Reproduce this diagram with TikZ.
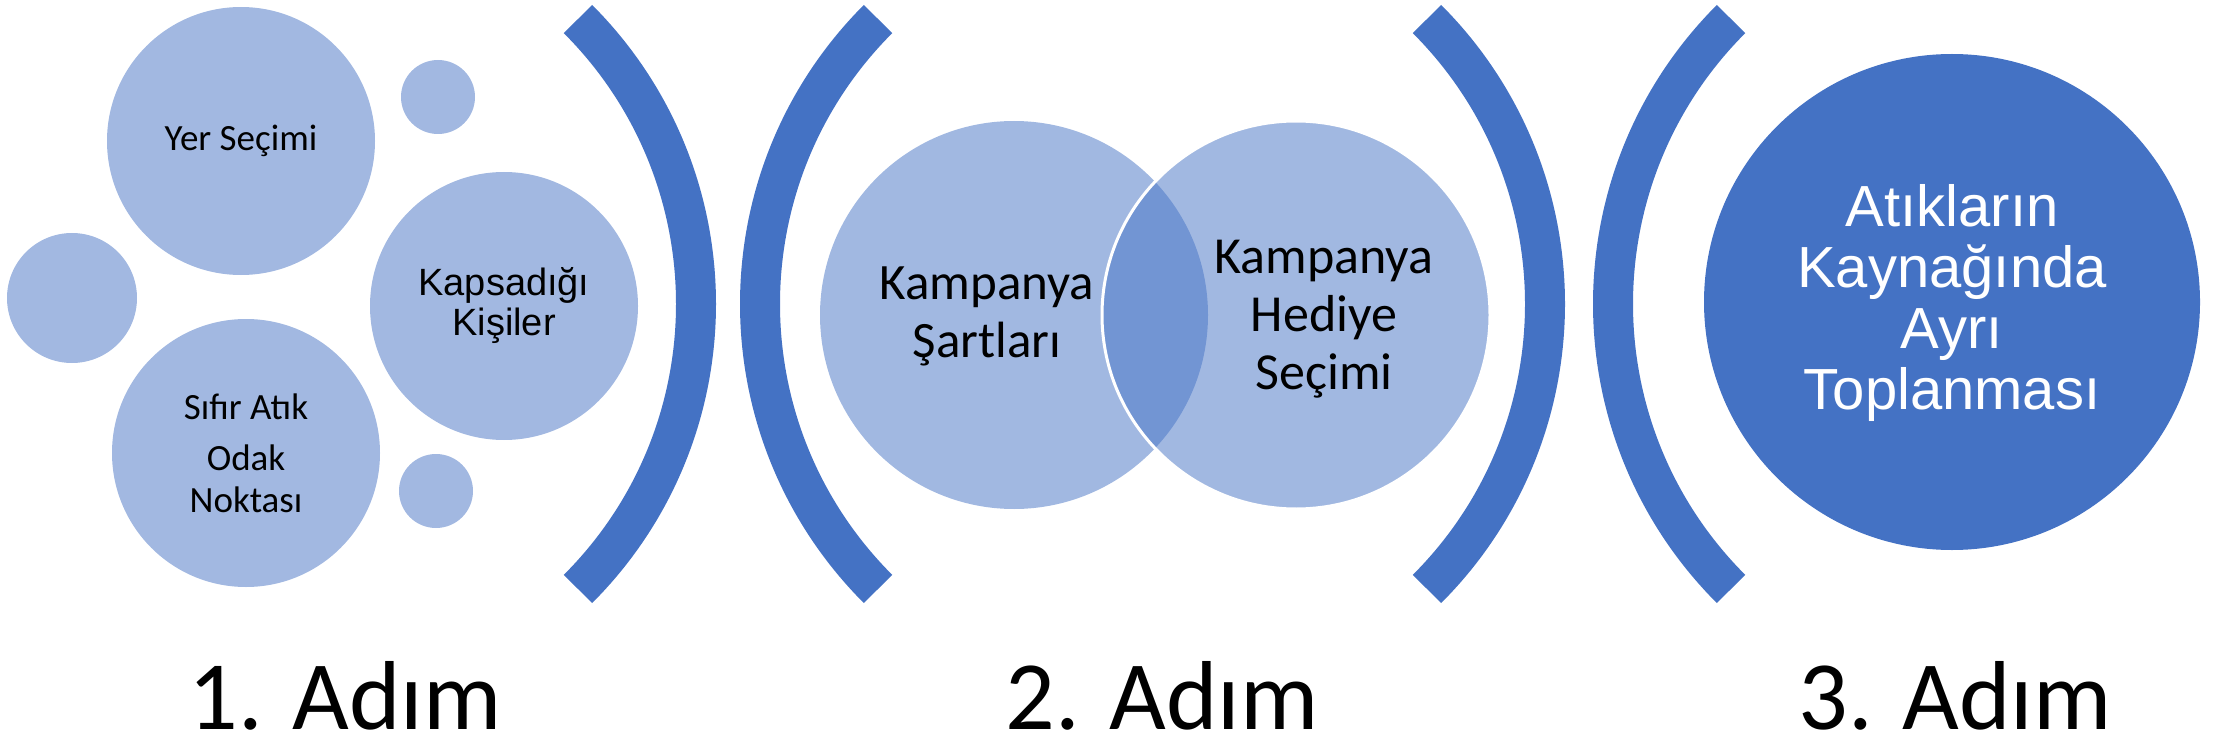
\documentclass[tikz,border=0pt]{standalone}
\usepackage{fontspec}
\setmainfont{Carlito}
\newfontfamily\arialfont{Liberation Sans}
\definecolor{stepblue}{HTML}{4472C4}
\colorlet{paleblue}{stepblue!50!white}

\begin{document}
\begin{tikzpicture}[x=1pt, y=-1pt,
  bubble/.style={circle, fill=paleblue, inner sep=0pt, align=center},
  venn/.style={circle, fill=stepblue, fill opacity=0.5, inner sep=0pt, minimum size=388pt},
  brace/.style={draw=stepblue, line width=40pt},
  steplabel/.style={anchor=base, inner sep=0pt, font=\fontsize{98}{110}\selectfont}]
\useasboundingbox (0,0) rectangle (2214,738);

% Step 1 bubbles
\node[bubble, minimum size=268pt, font=\fontsize{37}{42}\selectfont] (yer) at (241,141) {Yer Seçimi};
\node[bubble, minimum size=268pt, font=\arialfont\fontsize{38}{40}\selectfont] (kisiler) at (504,306) {Kapsadığı\\Kişiler};
\node[bubble, minimum size=268pt, font=\fontsize{37}{42}\selectfont] (odak) at (246,453) {Sıfır Atık\\[9pt]Odak\\Noktası};
\node[bubble, minimum size=130pt] (solbos) at (72,298) {};
\node[bubble, minimum size=74pt] (ustbos) at (438,97) {};
\node[bubble, minimum size=74pt] (altbos) at (436,491) {};

% Brackets
\foreach \cx/\a in {293/-45, 1163/135, 1142/-45, 2016/135}
  \draw[brace] (\cx,304) ++(\a:403) arc[start angle=\a, delta angle=90, radius=403];

% Step 2 venn
\node[venn] (sartlar) at (1014,315) {};
\node[venn, draw=white, line width=3pt] (hediye) at (1296,315) {};
\node[font=\fontsize{51}{58}\selectfont, align=center] (sartlartext) at (987,316) {Kampanya\\Şartları};
\node[font=\fontsize{52}{58}\selectfont, align=center] (hediyetext) at (1324,319) {Kampanya\\Hediye\\Seçimi};

% Step 3
\node[circle, fill=stepblue, inner sep=0pt, minimum size=496pt] (ayri) at (1952,302) {};
\node[font=\arialfont\fontsize{58}{61}\selectfont, text=white, align=center] (ayritext) at (1952,303) {Atıkların\\Kaynağında\\Ayrı\\Toplanması};

% Labels
\node[steplabel] (adim1) at (345,729) {1. Adım};
\node[steplabel] (adim2) at (1162,729) {2. Adım};
\node[steplabel] (adim3) at (1955,729) {3. Adım};
\end{tikzpicture}
\end{document}
